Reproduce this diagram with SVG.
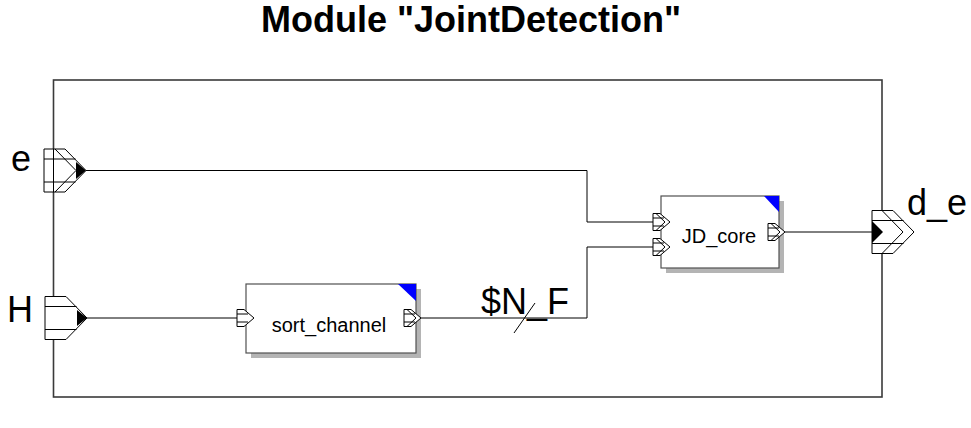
<svg xmlns="http://www.w3.org/2000/svg" width="971" height="428" viewBox="0 0 971 428">
<style>
.t{font-family:"Liberation Sans",Arial,sans-serif;fill:#000}
.big{font-size:36px}
.blk{font-size:20px}
.title{font-size:36px;font-weight:bold}
.frame{fill:none;stroke:#3a3a3a;stroke-width:1.6}
.box{fill:#fff;stroke:#505050;stroke-width:1.2}
.shadow{fill:#b4b4b4}
.corner{fill:#0000ff}
.p{fill:#fff;stroke:#000;stroke-width:1}
.pl{fill:none;stroke:#000;stroke-width:1}
.tri{fill:#000}
.w{fill:none;stroke:#000;stroke-width:1}
</style>
<defs>
  <g id="mp">
    <path class="p" d="M0,-21.5H21L42,0L21,21.5H0Z"/>
    <path class="pl" d="M0,-11.5H31.5M0,11.5H31.5"/>
  </g>
  <g id="sp">
    <path class="p" d="M0,-8.5H7L17,0L7,8.5H0Z"/>
    <path class="pl" d="M0,-4H11M0,4H11"/>
  </g>
  <g id="spb">
    <path class="p" d="M0,-8.5H7L17,0L7,8.5H0Z"/>
    <path class="pl" d="M0,-4H11M0,4H11M3,-8.5L12,0L3,8.5"/>
  </g>
</defs>
<text class="t title" x="261" y="32">Module "JointDetection"</text>
<rect class="frame" x="53.5" y="80" width="828.5" height="317"/>
<g id="connectors">
  <path class="w" d="M86,170.5H587V222H653"/>
  <path class="w" d="M87,318H237"/>
  <path class="w" d="M421,318H587V247H653"/>
  <path class="w" d="M785,232H872"/>
  <path class="w" d="M514,333L535,303"/>
  <text class="t big" x="481" y="314">$N_F</text>
</g>
<g id="port_e">
  <use href="#mp" x="44" y="170.5"/>
  <path class="pl" d="M55,149L76,170.5L55,192"/>
  <path class="tri" d="M76,162L86,170.5L76,179Z"/>
  <line x1="53.5" y1="149" x2="53.5" y2="192" stroke="#000"/>
  <text class="t big" x="11" y="171">e</text>
</g>
<g id="port_H">
  <use href="#mp" x="45" y="318"/>
  <path class="tri" d="M77,310L87,318L77,326Z"/>
  <text class="t big" x="7" y="321.5">H</text>
</g>
<g id="port_d_e">
  <use href="#mp" x="872" y="232"/>
  <path class="pl" d="M882,210.5L903,232L882,253.5"/>
  <path class="tri" d="M872,221L883,232L872,243Z"/>
  <text class="t big" x="907" y="215">d_e</text>
</g>
<g id="sort_channel">
  <rect class="shadow" x="251" y="289" width="170" height="69"/>
  <rect class="box" x="246" y="284" width="170" height="69"/>
  <path class="corner" d="M398,284H416V301Z"/>
  <use href="#sp" x="237" y="318"/>
  <use href="#spb" x="404" y="318"/>
  <text class="t blk" x="329" y="331.5" text-anchor="middle">sort_channel</text>
</g>
<g id="JD_core">
  <rect class="shadow" x="666" y="201" width="118" height="72"/>
  <rect class="box" x="661" y="196" width="118" height="72"/>
  <path class="corner" d="M764,196H779V212Z"/>
  <use href="#spb" x="653" y="222"/>
  <use href="#spb" x="653" y="247"/>
  <use href="#spb" x="768" y="232"/>
  <text class="t blk" x="719" y="243" text-anchor="middle">JD_core</text>
</g>
</svg>
